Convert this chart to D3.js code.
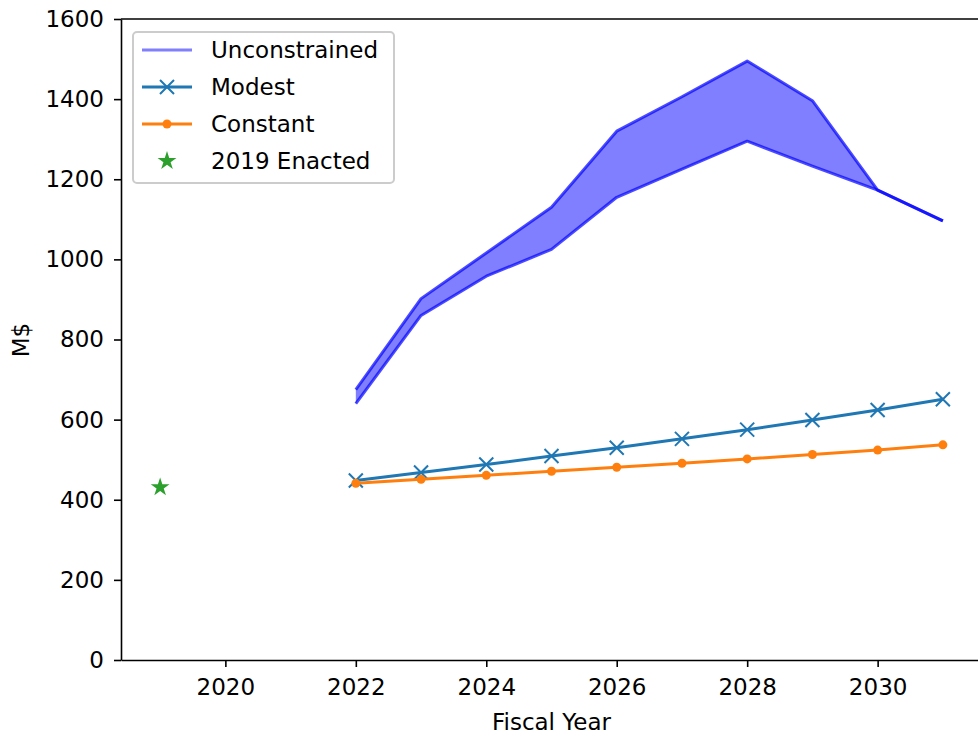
<!DOCTYPE html>
<html>
<head>
<meta charset="utf-8">
<script src="https://cdn.jsdelivr.net/npm/d3@7"></script>
<style>
  body { margin: 0; background: #fff; }
  svg { display: block; font-family: "DejaVu Sans", sans-serif; }
</style>
</head>
<body>
<div id="wrapper"></div>
<script>
const years = [2022, 2023, 2024, 2025, 2026, 2027, 2028, 2029, 2030, 2031]
const unconstrainedHigh = [675, 902, 1016, 1130, 1320, 1406, 1495, 1396, 1173, 1096]
const unconstrainedLow = [640, 860, 958, 1025, 1155, 1225, 1295, 1233, 1173, 1096]
const modest = [448, 468, 488, 509, 530, 552, 575, 599, 624, 651]
const constant = [441, 451, 461, 471, 481, 491, 502, 513, 524, 537]
const enactedYear = [2019]
const enactedValue = [431]
const xTicks = [2020, 2022, 2024, 2026, 2028, 2030]
const yTicks = [0, 200, 400, 600, 800, 1000, 1200, 1400, 1600]
const legendLabels = ["Unconstrained", "Modest", "Constant", "2019 Enacted"]

const fontSize = 23

function drawChart() {
  let dimensions = {
    width: 978,
    height: 734,
    margins: { top: 19, right: -4, bottom: 74, left: 121 }
  }
  dimensions.boundedWidth = dimensions.width - dimensions.margins.left - dimensions.margins.right
  dimensions.boundedHeight = dimensions.height - dimensions.margins.top - dimensions.margins.bottom

  const wrapper = d3.select("#wrapper")
    .append("svg")
      .attr("width", dimensions.width)
      .attr("height", dimensions.height)

  const bounds = wrapper.append("g")
    .attr("transform", `translate(${dimensions.margins.left},${dimensions.margins.top})`)

  // matplotlib style 5% margins around 2019..2031
  const xScale = d3.scaleLinear()
    .domain([2018.4, 2031.6])
    .range([0, dimensions.boundedWidth])

  const yScale = d3.scaleLinear()
    .domain([0, 1600])
    .range([dimensions.boundedHeight, 0])

  const band = years.map((y, i) => ({ x: y, hi: unconstrainedHigh[i], lo: unconstrainedLow[i] }))

  const area = d3.area()
    .x(d => xScale(d.x))
    .y0(d => yScale(d.lo))
    .y1(d => yScale(d.hi))

  bounds.append("path")
    .attr("d", area(band))
    .attr("fill", "#0000ff")
    .attr("fill-opacity", 0.5)

  const line = d3.line()
    .x(d => xScale(d.x))
    .y(d => yScale(d.y))

  const edge = key => band.map(d => ({ x: d.x, y: d[key] }))
  ;["hi", "lo"].forEach(k => {
    bounds.append("path")
      .attr("d", line(edge(k)))
      .attr("fill", "none")
      .attr("stroke", "#0000ff")
      .attr("stroke-opacity", 0.7)
      .attr("stroke-width", 3)
      .attr("stroke-linejoin", "round")
  })

  // Modest
  const modestData = years.map((y, i) => ({ x: y, y: modest[i] }))
  bounds.append("path")
    .attr("d", line(modestData))
    .attr("fill", "none")
    .attr("stroke", "#1f77b4")
    .attr("stroke-width", 3)
  const xMark = "M-7,-7L7,7M-7,7L7,-7"
  bounds.selectAll(".modest")
    .data(modestData)
    .join("path")
      .attr("d", xMark)
      .attr("transform", d => `translate(${xScale(d.x)},${yScale(d.y)})`)
      .attr("stroke", "#1f77b4")
      .attr("stroke-width", 2)

  // Constant
  const constantData = years.map((y, i) => ({ x: y, y: constant[i] }))
  bounds.append("path")
    .attr("d", line(constantData))
    .attr("fill", "none")
    .attr("stroke", "#ff7f0e")
    .attr("stroke-width", 3)
  bounds.selectAll(".constant")
    .data(constantData)
    .join("circle")
      .attr("cx", d => xScale(d.x))
      .attr("cy", d => yScale(d.y))
      .attr("r", 4.5)
      .attr("fill", "#ff7f0e")

  // 2019 enacted
  const star = d3.symbol().type(d3.symbolStar).size(110)
  bounds.selectAll(".enacted")
    .data(enactedYear.map((y, i) => ({ x: y, y: enactedValue[i] })))
    .join("path")
      .attr("d", star())
      .attr("transform", d => `translate(${xScale(d.x)},${yScale(d.y)})`)
      .attr("fill", "#2ca02c")

  // axes
  const xAxis = bounds.append("g")
    .attr("transform", `translate(0,${dimensions.boundedHeight})`)
    .call(d3.axisBottom(xScale).tickValues(xTicks).tickFormat(d3.format("d")).tickSize(7).tickPadding(12).tickSizeOuter(0))
  const yAxis = bounds.append("g")
    .call(d3.axisLeft(yScale).tickValues(yTicks).tickFormat(d3.format("d")).tickSize(7).tickPadding(10).tickSizeOuter(0))
  ;[xAxis, yAxis].forEach(ax => {
    ax.selectAll("text").attr("font-size", fontSize).attr("fill", "#000").attr("font-family", "DejaVu Sans")
    ax.selectAll("line").attr("stroke", "#000").attr("stroke-width", 1.6)
    ax.select(".domain").attr("stroke", "#000").attr("stroke-width", 1.6)
  })
  bounds.append("line")
    .attr("x1", 0).attr("x2", dimensions.boundedWidth)
    .attr("y1", 0).attr("y2", 0)
    .attr("stroke", "#000").attr("stroke-width", 1.6)
  bounds.append("line")
    .attr("x1", dimensions.boundedWidth).attr("x2", dimensions.boundedWidth)
    .attr("y1", 0).attr("y2", dimensions.boundedHeight)
    .attr("stroke", "#000").attr("stroke-width", 1.6)

  wrapper.append("text")
    .attr("x", dimensions.margins.left + dimensions.boundedWidth / 2)
    .attr("y", 730)
    .attr("text-anchor", "middle")
    .attr("font-size", fontSize)
    .text("Fiscal Year")

  wrapper.append("text")
    .attr("transform", "translate(29,340) rotate(-90)")
    .attr("text-anchor", "middle")
    .attr("font-size", fontSize)
    .text("M$")

  // legend
  const legend = wrapper.append("g").attr("transform", "translate(133,32)")
  legend.append("rect")
    .attr("width", 261).attr("height", 151)
    .attr("rx", 4)
    .attr("fill", "#fff").attr("fill-opacity", 0.8)
    .attr("stroke", "#cccccc").attr("stroke-width", 2)
  const rows = legend.selectAll(".row")
    .data(legendLabels)
    .join("g")
      .attr("transform", (d, i) => `translate(0,${18 + i * 37})`)
  rows.append("text")
    .attr("x", 78).attr("y", 8)
    .attr("font-size", fontSize)
    .text(d => d)
  const r = rows.nodes().map(n => d3.select(n))
  r[0].append("line").attr("x1", 9).attr("x2", 59).attr("stroke", "#0000ff").attr("stroke-opacity", 0.5).attr("stroke-width", 3)
  r[1].append("line").attr("x1", 9).attr("x2", 59).attr("stroke", "#1f77b4").attr("stroke-width", 3)
  r[1].append("path").attr("d", xMark).attr("transform", "translate(34,0)").attr("stroke", "#1f77b4").attr("stroke-width", 2)
  r[2].append("line").attr("x1", 9).attr("x2", 59).attr("stroke", "#ff7f0e").attr("stroke-width", 3)
  r[2].append("circle").attr("cx", 34).attr("r", 4.5).attr("fill", "#ff7f0e")
  r[3].append("path").attr("d", star()).attr("transform", "translate(34,0)").attr("fill", "#2ca02c")
}

drawChart()
</script>
</body>
</html>
